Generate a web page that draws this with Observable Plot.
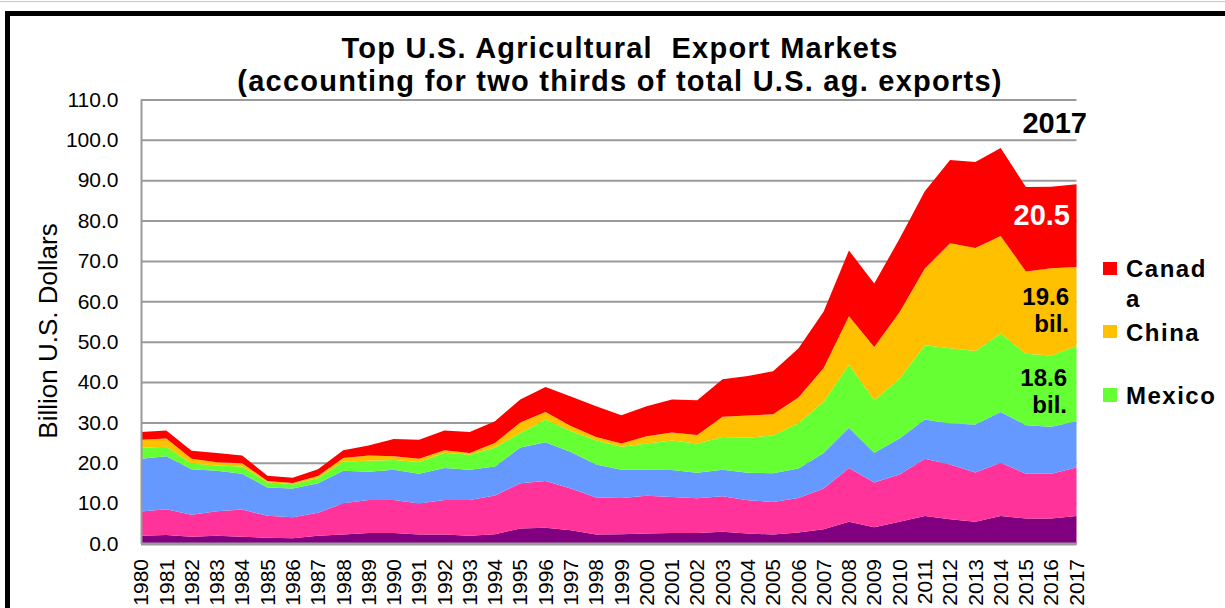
<!DOCTYPE html>
<html>
<head>
<meta charset="utf-8">
<script src="https://cdn.jsdelivr.net/npm/d3@7"></script>
<script src="https://cdn.jsdelivr.net/npm/@observablehq/plot@0.6"></script>
<style>
  html, body { margin: 0; padding: 0; background: #fff; }
  #wrap { position: relative; width: 1225px; height: 608px; overflow: hidden; background: #fff;
          font-family: "Liberation Sans", Arial, sans-serif; color: #000; }
  #wrap svg { position: absolute; left: 0; top: 0; }
  .abs { position: absolute; white-space: nowrap; }
  .title { left: 0; width: 1240px; text-align: center; font-size: 29px; font-weight: bold;
           letter-spacing: 1.25px; line-height: 33px; }
  .leg { font-size: 24px; font-weight: bold; letter-spacing: 1.5px; line-height: 24px; left: 1126px; }
  .sw { position: absolute; left: 1103px; width: 14px; height: 13px; }
</style>
</head>
<body>
<div id="wrap"></div>
<script>
// ---- data (billion US$) ----
const years = [1980,1981,1982,1983,1984,1985,1986,1987,1988,1989,1990,1991,1992,1993,1994,1995,1996,1997,1998,1999,
               2000,2001,2002,2003,2004,2005,2006,2007,2008,2009,2010,2011,2012,2013,2014,2015,2016,2017];
const southKorea = [1.9,2.1,1.7,1.9,1.7,1.4,1.3,1.9,2.2,2.6,2.6,2.2,2.2,1.9,2.3,3.7,3.9,3.3,2.2,2.3,2.5,2.6,2.6,2.9,2.5,2.2,2.7,3.5,5.4,4.0,5.4,6.8,6.0,5.4,6.8,6.2,6.2,6.8];
const japan = [6.0,6.4,5.4,6.1,6.7,5.5,5.2,5.7,7.8,8.2,8.2,7.7,8.6,8.9,9.6,11.2,11.6,10.3,9.2,9.0,9.3,8.9,8.6,8.8,8.2,8.1,8.6,10.1,13.3,11.1,11.7,14.2,13.6,12.2,13.2,11.1,11.1,12.0];
const eu = [13.1,13.1,11.3,10.0,8.9,7.0,7.1,7.3,8.0,7.0,7.5,7.4,7.9,7.5,7.2,8.9,9.6,9.1,8.2,7.0,6.5,6.7,6.3,6.6,6.8,7.1,7.3,8.8,10.0,7.4,8.9,9.7,10.1,11.9,12.6,12.0,11.6,11.5];
const mexico = [2.7,2.4,1.4,1.3,1.8,1.3,1.1,1.3,2.3,2.7,2.4,2.9,3.8,3.7,4.7,3.6,5.6,5.2,6.0,5.7,6.5,7.3,7.3,8.1,8.7,9.4,11.2,12.7,15.6,13.0,14.8,18.4,18.7,18.2,19.4,17.7,17.7,18.6];
const china = [2.0,2.0,1.2,0.8,0.8,0.3,0.3,0.5,0.9,1.3,0.9,0.8,0.6,0.4,1.1,2.6,1.9,1.2,0.8,0.8,1.8,2.0,2.1,5.0,5.5,5.2,6.4,8.4,12.0,13.2,16.5,19.0,26.0,25.5,24.2,20.4,21.6,19.6];
const canada = [1.9,2.0,2.0,2.3,1.9,1.3,1.3,1.7,1.9,2.5,4.3,4.7,4.9,5.2,5.4,5.7,6.2,7.3,7.6,7.0,7.4,8.2,8.6,9.3,9.8,10.7,12.1,14.0,16.3,15.7,18.2,19.2,20.6,21.3,21.8,20.9,20.2,20.5];

const seriesNames = ["South Korea", "Japan", "EU", "Mexico", "China", "Canada"];
const seriesValues = [southKorea, japan, eu, mexico, china, canada];
const seriesColors = ["#800080", "#FF3399", "#6699FF", "#66FF33", "#FFC000", "#FF0000"];
const yTicks = [0,10,20,30,40,50,60,70,80,90,100,110];

const legendNames = ["Canada", "China", "Mexico"];
const labelCanada = "20.5";
const labelChina = "19.6\nbil.";
const labelMexico = "18.6\nbil.";
const titleLines = ["Top U.S. Agricultural  Export Markets", "(accounting for two thirds of total U.S. ag. exports)"];
const yLabel = "Billion U.S. Dollars";
const yearLabel = "2017";

// long table for the stacked areas
const rows = [];
seriesNames.forEach((s, k) => years.forEach((yr, i) => rows.push({year: yr, series: s, value: seriesValues[k][i]})));

// mid-points of the top three layers in the last year, for the value labels
const last = years.length - 1;
let cum = 0;
const mids = {};
seriesNames.forEach((s, k) => { const v = seriesValues[k][last]; mids[s] = cum + v / 2; cum += v; });
const lastYear = years[last];

const chart = Plot.plot({
  width: 1225,
  height: 608,
  marginLeft: 141,
  marginRight: 148.5,
  marginTop: 99.5,
  marginBottom: 64.5,
  style: {fontFamily: "'Liberation Sans', Arial, sans-serif", fontSize: "21px", color: "#000", background: "transparent", overflow: "visible"},
  x: {type: "linear", domain: [years[0], lastYear]},
  y: {domain: [0, 110]},
  color: {domain: seriesNames, range: seriesColors},
  marks: [
    Plot.gridY(yTicks, {stroke: "#9a9a9a", strokeOpacity: 1, strokeWidth: 2}),
    Plot.areaY(rows, {x: "year", y: "value", fill: "series", order: seriesNames}),
    Plot.ruleX([years[0]], {stroke: "#9a9a9a", strokeWidth: 2}),
    Plot.ruleY([0], {stroke: "#9a9a9a", strokeWidth: 3}),
    Plot.axisX(years, {tickFormat: d => String(d), tickRotate: -90, tickSize: 0, tickPadding: 15, label: null, fontSize: 21}),
    Plot.axisY(yTicks, {tickFormat: d => d.toFixed(1), tickSize: 0, tickPadding: 23, label: null, fontSize: 21}),
    Plot.text([labelCanada], {x: () => lastYear, y: () => mids["Canada"], text: d => d, textAnchor: "end", dx: -7, dy: -10,
      fill: "#fff", fontWeight: "bold", fontSize: 29}),
    Plot.text([labelChina], {x: () => lastYear, y: () => mids["China"], text: d => d, textAnchor: "end", dx: -8, dy: 3,
      fill: "#000", fontWeight: "bold", fontSize: 24, lineHeight: 1.12}),
    Plot.text([labelMexico], {x: () => lastYear, y: () => mids["Mexico"], text: d => d, textAnchor: "end", dx: -10, dy: 7,
      fill: "#000", fontWeight: "bold", fontSize: 24, lineHeight: 1.12})
  ]
});

const wrap = document.getElementById("wrap");
wrap.appendChild(chart);

function add(html) { wrap.insertAdjacentHTML("beforeend", html); }
// slide frame
add('<div class="abs" style="left:0;top:1px;width:1225px;height:1px;background:#c8c8c8"></div>');
add('<div class="abs" style="left:5px;top:11px;width:1300px;height:700px;border-top:5px solid #000;border-left:5px solid #000;box-sizing:border-box"></div>');
// title
add(`<div class="abs title" style="top:32px">${titleLines[0].replace(/  /g, " &nbsp;")}</div>`);
add(`<div class="abs title" style="top:65px">${titleLines[1]}</div>`);
// year label
add(`<div class="abs" style="left:1000px;width:87px;text-align:right;top:109px;font-size:29px;font-weight:bold;line-height:29px">${yearLabel}</div>`);
// y axis title
add(`<div class="abs" style="left:48px;top:331px;font-size:26px;transform:translate(-50%,-50%) rotate(-90deg)">${yLabel}</div>`);
// legend
const legColor = n => seriesColors[seriesNames.indexOf(n)];
add(`<div class="sw" style="top:262px;background:${legColor(legendNames[0])}"></div>`);
add(`<div class="abs leg" style="top:257px">${legendNames[0].slice(0, 5)}</div>`);
add(`<div class="abs leg" style="top:287px">${legendNames[0].slice(5)}</div>`);
add(`<div class="sw" style="top:325px;background:${legColor(legendNames[1])}"></div>`);
add(`<div class="abs leg" style="top:321px">${legendNames[1]}</div>`);
add(`<div class="sw" style="top:388px;height:14px;background:${legColor(legendNames[2])}"></div>`);
add(`<div class="abs leg" style="top:384px">${legendNames[2]}</div>`);
</script>
</body>
</html>
